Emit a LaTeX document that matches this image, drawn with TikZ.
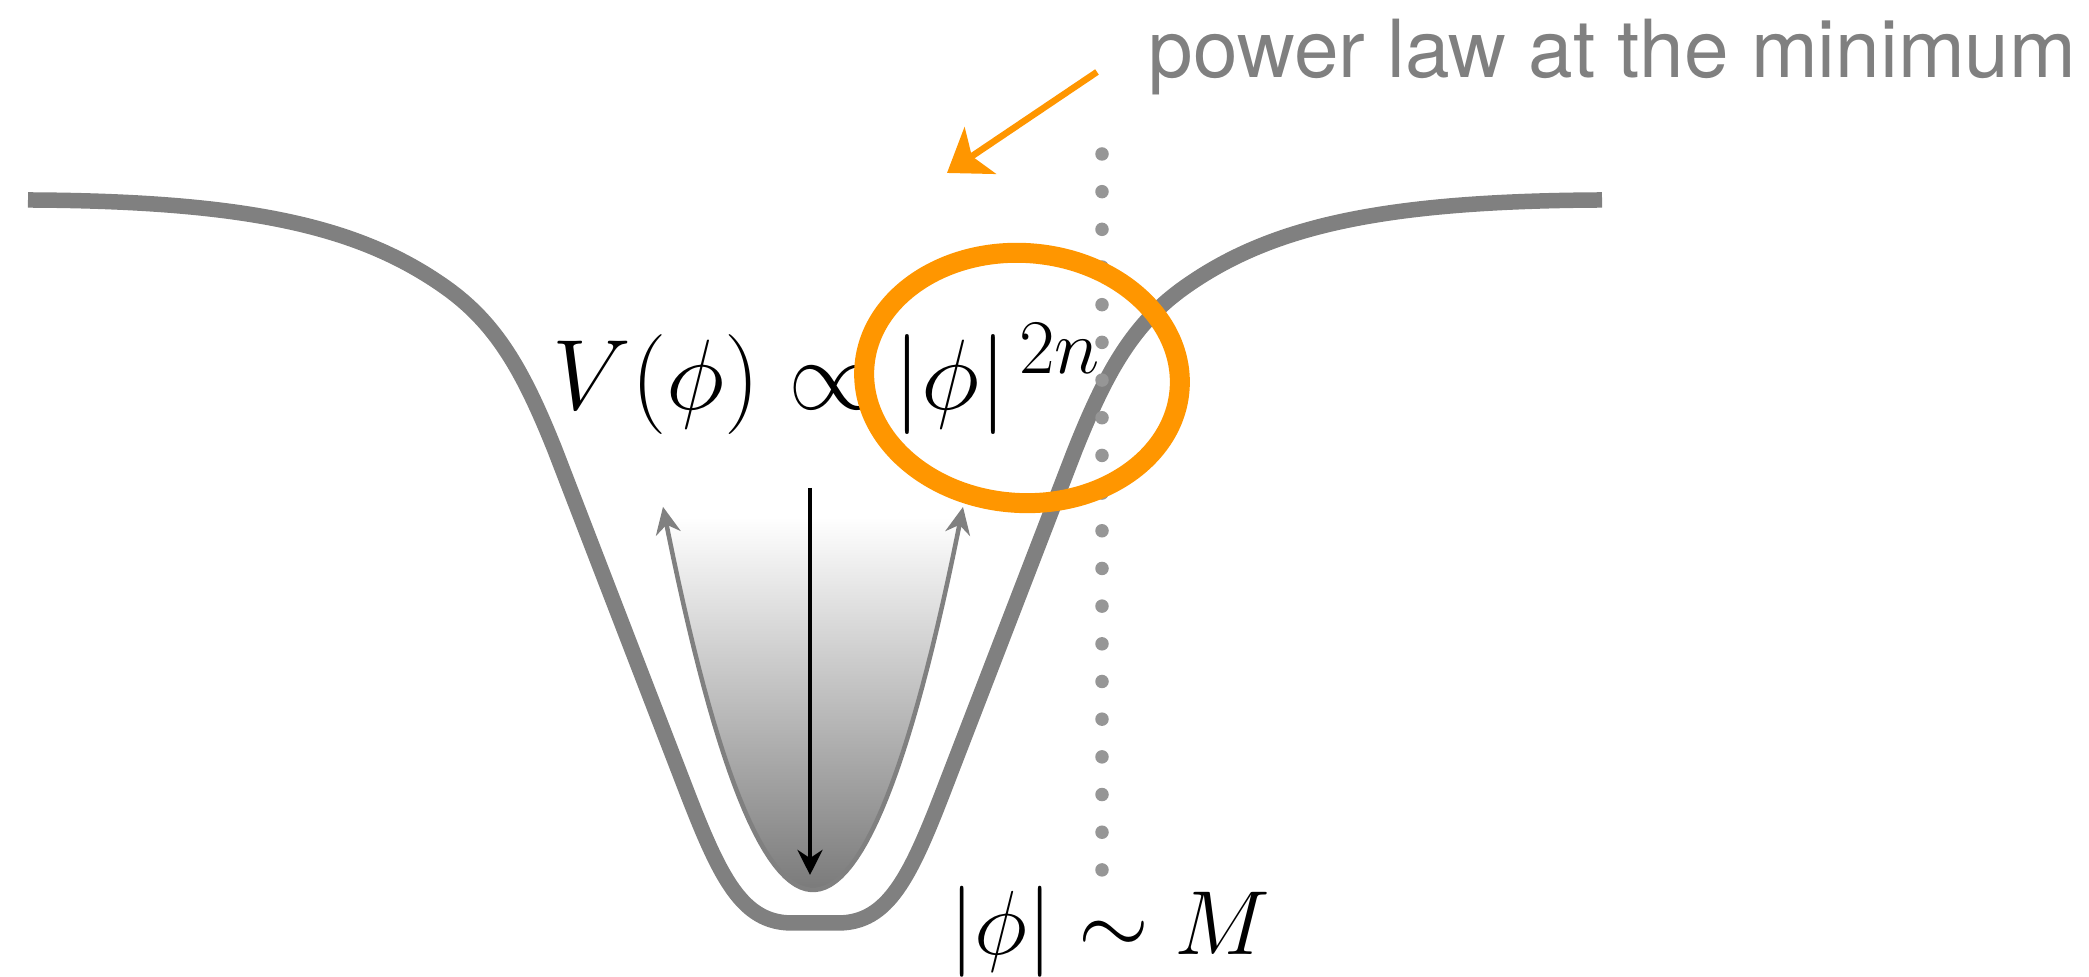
\RequirePackage{fix-cm}
\documentclass[tikz,border=0pt]{standalone}
\usepackage{fontspec}
\newfontfamily\notefont{TeX Gyre Heros}
\usetikzlibrary{arrows.meta}
\DeclareMathSizes{28.45}{28.45}{22}{17}

\begin{document}
\begin{tikzpicture}[>=Stealth,
  potential/.style={line width=0.155cm, curvecolor},
  rolling/.style={line width=0.045cm, curvecolor, {Stealth[length=0.27cm, width=0.25cm]}-{Stealth[length=0.27cm, width=0.25cm]}},
  label/.style={anchor=base west, inner sep=0pt}]

\definecolor{curvecolor}{RGB}{128, 128, 128}
\definecolor{dotcolor}{RGB}{150, 150, 150}
\definecolor{markcolor}{RGB}{255, 150, 0}

\useasboundingbox (0, 0) rectangle (20.89, 9.77);

% shaded well
\shade[top color=white, bottom color=black!52] plot[domain=-1.48:1.48, samples=60] ({8.13+\x}, {0.87+1.703*\x*\x}) -- cycle;

% potential curve
\draw[potential] (0.28, 7.77) .. controls (2.5, 7.76) and (3.6, 7.5) .. (4.45, 6.90)
  .. controls (4.96, 6.54) and (5.23, 6.07) .. (5.55, 5.27)
  -- (6.85, 1.90)
  .. controls (7.2, 0.99) and (7.42, 0.54) .. (7.92, 0.54)
  -- (8.38, 0.54)
  .. controls (8.88, 0.54) and (9.10, 0.99) .. (9.45, 1.90)
  -- (10.75, 5.27)
  .. controls (11.07, 6.07) and (11.34, 6.54) .. (11.85, 6.90)
  .. controls (12.7, 7.5) and (13.8, 7.76) .. (16.02, 7.77);

% position of the minimum
\coordinate (dottop) at (11.02, 8.23);
\coordinate (dotbot) at (11.02, 1.06);
\draw[dotcolor, line width=0.135cm, line cap=round, dash pattern=on 0pt off 0.3768cm] (dottop) -- (dotbot);

% oscillation
\draw[rolling] plot[domain=-1.5:1.5, samples=60] ({8.13+\x}, {0.87+1.703*\x*\x});

\coordinate (droptop) at (8.10, 4.89);
\coordinate (dropbot) at (8.10, 1.02);
\draw[->, line width=0.045cm, >={Stealth[length=0.25cm, width=0.25cm]}] (droptop) -- (dropbot);

% labels
\node[label, font=\fontsize{28.45}{34}\selectfont] (potlabel) at (5.52, 5.67) {$V(\phi) \propto |\phi|^{\kern0.12em 2n}$};
\node[label, font=\fontsize{25.9}{31}\selectfont] (minlabel) at (9.49, 0.22) {$|\phi| \sim M$};
\node[label, curvecolor, font=\notefont\fontsize{22.8}{27}\selectfont] (note) at (11.48, 8.99) {power law at the minimum};

% highlight
\draw[markcolor, line width=0.2cm, rotate around={-4:(10.22, 5.99)}] (10.22, 5.99) ellipse (1.58 and 1.25);

\coordinate (pointtail) at (10.97, 9.05);
\coordinate (pointtip) at (9.47, 8.04);
\draw[markcolor, line width=0.065cm, -{Stealth[length=0.4cm, width=0.56cm, inset=0.1cm]}] (pointtail) -- (pointtip);

\end{tikzpicture}
\end{document}
